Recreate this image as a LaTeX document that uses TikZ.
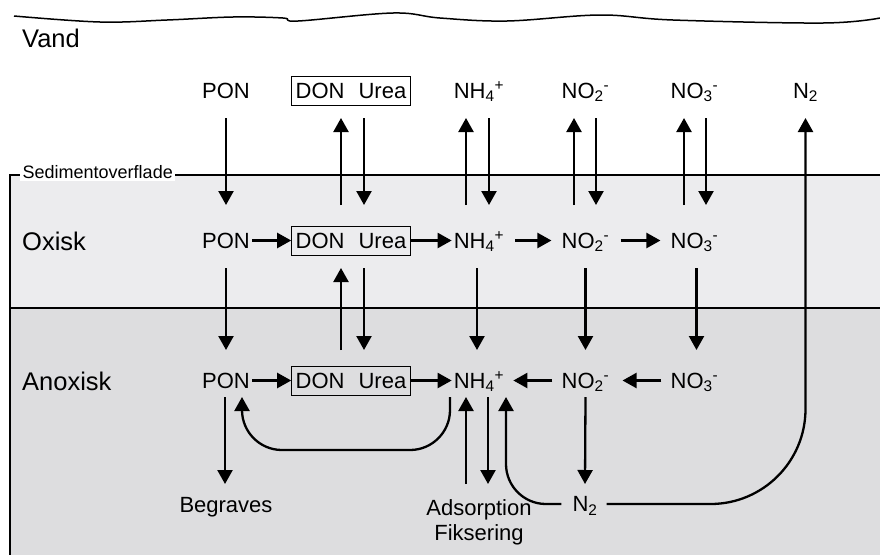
\documentclass[tikz,border=0pt]{standalone}
\usepackage{fontspec}
\setmainfont{Liberation Sans}
\usetikzlibrary{arrows.meta,calc}
\definecolor{oxgray}{RGB}{236,236,238}
\definecolor{anoxgray}{RGB}{221,221,223}
\newcommand{\NHfour}{NH\textsubscript{4}\textsuperscript{+}}
\newcommand{\NOtwo}{NO\textsubscript{2}\textsuperscript{-}}
\newcommand{\NOthree}{NO\textsubscript{3}\textsuperscript{-}}
\newcommand{\Ntwo}{N\textsubscript{2}}
\tikzset{%
	species/.style  = {font=\fontsize{22}{26}\selectfont, inner xsep=2pt, inner ysep=0pt, text height=15.5pt, text depth=0pt},
	donbox/.style   = {species, draw, line width=1pt, minimum height=29pt, inner xsep=4pt},
	zone/.style     = {font=\fontsize{25.5}{29}\selectfont, anchor=west, inner sep=0pt},
	sedlabel/.style = {font=\fontsize{18}{20}\selectfont, anchor=west, fill=white, inner sep=2.5pt},
	twoline/.style  = {font=\fontsize{22}{25}\selectfont, align=center, anchor=north, inner sep=0pt},
	flux/.style     = {line width=2.3pt, -{Triangle[length=14pt,width=15pt]}},
	gap/.style      = {shorten <=9pt, shorten >=8pt},
}

\begin{document}
\begin{tikzpicture}[x=1pt,y=-1pt]
	\useasboundingbox (0,0) rectangle (880,555);
	
	% sediment zones
	\fill[oxgray] (10,175) rectangle (880,308);
	\fill[anoxgray] (10,308) rectangle (880,555);
	\draw[line width=1.2pt] (880,175) -- (10,175) -- (10,555);
	\draw[line width=1.2pt] (10,308) -- (880,308);
	
	% water surface
	\draw[line width=1.5pt] plot[smooth, tension=0.6] coordinates {(14,16) (100,22) (167,20) (233,17) (283,18) (298,21) (393,13) (440,18) (507,21) (600,15) (673,20) (823,23) (880,18)};
	
	\node[zone] (vand) at (22,38) {Vand};
	\node[zone] (oxisk) at (22,241) {Oxisk};
	\node[zone] (anoxisk) at (22,381) {Anoxisk};
	\node[sedlabel] (sed) at (20,172) {Sedimentoverflade};
	
	% water column
	\node[species] (ponw) at (226,90.5) {PON};
	\node[donbox] (donw) at (351,90.5) {DON\hspace{14pt}Urea};
	\node[species] (nh4w) at (479,90.5) {\NHfour};
	\node[species] (no2w) at (585.5,90.5) {\NOtwo};
	\node[species] (no3w) at (694.5,90.5) {\NOthree};
	\node[species] (n2w) at (805.5,90.5) {\Ntwo};
	
	% oxic layer
	\node[species] (pono) at (226,240.5) {PON};
	\node[donbox] (dono) at (351,240.5) {DON\hspace{14pt}Urea};
	\node[species] (nh4o) at (479,240.5) {\NHfour};
	\node[species] (no2o) at (585.5,240.5) {\NOtwo};
	\node[species] (no3o) at (694.5,240.5) {\NOthree};
	
	% anoxic layer
	\node[species] (pona) at (226,380.5) {PON};
	\node[donbox] (dona) at (351,380.5) {DON\hspace{14pt}Urea};
	\node[species] (nh4a) at (479,380.5) {\NHfour};
	\node[species] (no2a) at (585.5,380.5) {\NOtwo};
	\node[species] (no3a) at (694.5,380.5) {\NOthree};
	
	\node[species] (begr) at (226,505) {Begraves};
	\node[twoline] (ads) at (479,499) {Adsorption\\Fiksering};
	\node[species] (n2b) at (585,504) {\Ntwo};
	
	% arrow levels
	\coordinate (g1t) at (0,118);
	\coordinate (g1b) at (0,205);
	\coordinate (g2t) at (0,268);
	\coordinate (g2b) at (0,350);
	\coordinate (g3t) at (0,397);
	\coordinate (g3b) at (0,484);
	\coordinate (loop) at (0,450);
	
	% water <-> surface
	\draw[flux] (ponw.center |- g1t) -- (pono.center |- g1b);
	\draw[flux] ([xshift=-10pt]dono.center |- g1b) -- ([xshift=-10pt]donw.center |- g1t);
	\draw[flux] ([xshift=13pt]donw.center |- g1t) -- ([xshift=13pt]dono.center |- g1b);
	\draw[flux] ([xshift=-13pt]nh4o.center |- g1b) -- ([xshift=-13pt]nh4w.center |- g1t);
	\draw[flux] ([xshift=10pt]nh4w.center |- g1t) -- ([xshift=10pt]nh4o.center |- g1b);
	\draw[flux] ([xshift=-11.5pt]no2o.center |- g1b) -- ([xshift=-11.5pt]no2w.center |- g1t);
	\draw[flux] ([xshift=10.5pt]no2w.center |- g1t) -- ([xshift=10.5pt]no2o.center |- g1b);
	\draw[flux] ([xshift=-10.5pt]no3o.center |- g1b) -- ([xshift=-10.5pt]no3w.center |- g1t);
	\draw[flux] ([xshift=11.5pt]no3w.center |- g1t) -- ([xshift=11.5pt]no3o.center |- g1b);
	
	% oxic layer
	\draw[flux] (pono.east) -- (dono.west);
	\draw[flux] (dono.east) -- (nh4o.west);
	\draw[flux, gap] (nh4o.east) -- (no2o.west);
	\draw[flux, gap] (no2o.east) -- (no3o.west);
	
	% oxic -> anoxic
	\draw[flux] (pono.center |- g2t) -- (pona.center |- g2b);
	\draw[flux] ([xshift=-10pt]dona.center |- g2b) -- ([xshift=-10pt]dono.center |- g2t);
	\draw[flux] ([xshift=13pt]dono.center |- g2t) -- ([xshift=13pt]dona.center |- g2b);
	\draw[flux] ([xshift=-2pt]nh4o.center |- g2t) -- ([xshift=-2pt]nh4a.center |- g2b);
	\draw[flux] (no2o.center |- g2t) -- (no2a.center |- g2b);
	\draw[flux] ([xshift=2pt]no3o.center |- g2t) -- ([xshift=2pt]no3a.center |- g2b);
	
	% anoxic layer
	\draw[flux] (pona.east) -- (dona.west);
	\draw[flux] (dona.east) -- (nh4a.west);
	\draw[flux, shorten <=7pt, shorten >=7pt] (no2a.west) -- (nh4a.east);
	\draw[flux, shorten <=7pt, shorten >=11pt] (no3a.west) -- (no2a.east);
	
	% below anoxic
	\draw[flux] ([xshift=-1pt]pona.center |- g3t) -- ([xshift=-1pt]begr.center |- g3b);
	\draw[flux, rounded corners=40pt] ([xshift=-29pt]nh4a.center |- g3t) |- ([xshift=16pt]pona.center |- loop) -- ([xshift=16pt]pona.center |- g3t);
	\draw[flux] ([xshift=-13pt]ads.center |- g3b) -- ([xshift=-13pt]nh4a.center |- g3t);
	\draw[flux] ([xshift=9pt]nh4a.center |- g3t) -- ([xshift=9pt]ads.center |- g3b);
	\draw[flux] (no2a.center |- g3t) -- (n2b.center |- g3b);
	\draw[flux, rounded corners=40pt, shorten <=9pt] (n2b.west) -| ([xshift=27pt]nh4a.center |- g3t);
	\draw[flux, rounded corners=95pt, shorten <=7pt] (n2b.east) -| (n2w.center |- g1t);
	
\end{tikzpicture}
\end{document}
